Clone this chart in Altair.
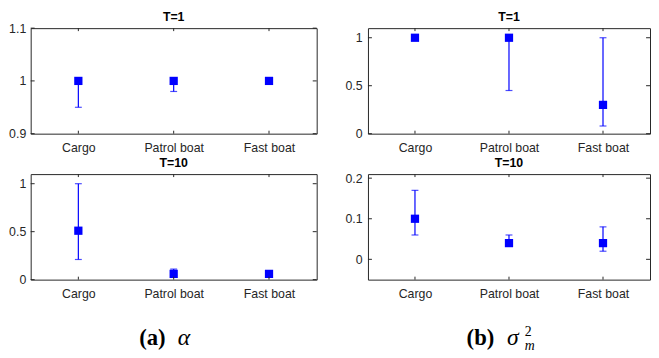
import altair as alt
import pandas as pd

categories = ["Cargo", "Patrol boat", "Fast boat"]

alpha_t1_mean = [1.0, 1.0, 1.0]
alpha_t1_low = [0.95, 0.98, 0.994]
alpha_t1_high = [1.0, 1.0, 1.0]

alpha_t10_mean = [0.51, 0.06, 0.06]
alpha_t10_low = [0.21, 0.04, 0.04]
alpha_t10_high = [1.0, 0.11, 0.08]

sigma_t1_mean = [1.0, 1.0, 0.30]
sigma_t1_low = [1.0, 0.45, 0.08]
sigma_t1_high = [1.0, 1.0, 1.0]

sigma_t10_mean = [0.10, 0.04, 0.04]
sigma_t10_low = [0.06, 0.035, 0.02]
sigma_t10_high = [0.17, 0.06, 0.08]

alpha_t1_ticks = [0.9, 1.0, 1.1]
alpha_t10_ticks = [0, 0.5, 1]
sigma_t1_ticks = [0, 0.5, 1]
sigma_t10_ticks = [0, 0.1, 0.2]

alpha_t1_domain = [0.9, 1.1]
alpha_t10_domain = [0, 1.1]
sigma_t1_domain = [0, 1.1]
sigma_t10_domain = [-0.05, 0.21]

panel_titles = ["T=1", "T=10"]
caption_a = ["(a)", "α"]
caption_b = ["(b)", "σ", "2", "m"]

FONT = "Liberation Sans"
SERIF = "Liberation Serif"
BLUE = "#0000ff"
AX = "#262626"


def panel(title, mean, low, high, ticks, domain, width, height, pad):
    df = pd.DataFrame({"cat": categories, "mean": mean, "low": low, "high": high})
    tdf = pd.DataFrame({"t": ticks})
    cdf = pd.DataFrame({"cat": categories})
    ttl = pd.DataFrame({"t": [title]})
    xaxis = alt.Axis(title=None, labelAngle=0, ticks=False, domain=False, grid=False,
                     labelPadding=8, labelFontSize=12.5, labelColor=AX, labelFont=FONT)
    xs = alt.Scale(type="point", padding=0.5, domain=categories)
    yaxis = alt.Axis(title=None, values=ticks, format=".2~f", ticks=False, domain=False,
                     grid=False, labelPadding=pad, labelFontSize=12.5, labelColor=AX,
                     labelFont=FONT)
    ys = alt.Scale(domain=domain, nice=False, zero=False)

    def X():
        return alt.X("cat:N", scale=xs, axis=xaxis, sort=categories)

    bars = alt.Chart(df).mark_rule(color=BLUE, strokeWidth=1.2).encode(
        x=X(), y=alt.Y("low:Q", scale=ys, axis=yaxis), y2="high:Q")
    cap_lo = alt.Chart(df).mark_tick(color=BLUE, thickness=1.2, size=7).encode(
        x=X(), y=alt.Y("low:Q", scale=ys, axis=yaxis))
    cap_hi = alt.Chart(df).mark_tick(color=BLUE, thickness=1.2, size=7).encode(
        x=X(), y=alt.Y("high:Q", scale=ys, axis=yaxis))
    pts = alt.Chart(df).mark_square(color=BLUE, size=70, opacity=1).encode(
        x=X(), y=alt.Y("mean:Q", scale=ys, axis=yaxis))
    yt_l = alt.Chart(tdf).mark_rule(color=AX, strokeWidth=1).encode(
        y=alt.Y("t:Q", scale=ys, axis=yaxis), x=alt.value(0), x2=alt.value(4))
    yt_r = alt.Chart(tdf).mark_rule(color=AX, strokeWidth=1).encode(
        y=alt.Y("t:Q", scale=ys, axis=yaxis), x=alt.value(width - 4), x2=alt.value(width))
    xt_t = alt.Chart(cdf).mark_rule(color=AX, strokeWidth=1).encode(
        x=X(), y=alt.value(0), y2=alt.value(3))
    xt_b = alt.Chart(cdf).mark_rule(color=AX, strokeWidth=1).encode(
        x=X(), y=alt.value(height - 3), y2=alt.value(height))
    head = alt.Chart(ttl).mark_text(font=FONT, fontSize=12.5, fontWeight="bold",
                                    color="black", align="center", baseline="middle").encode(
        text="t:N", x=alt.value(width / 2), y=alt.value(-11))
    return [bars, cap_lo, cap_hi, pts, yt_l, yt_r, xt_t, xt_b, head]


def caption_text(text, x, y, size, weight, style):
    d = pd.DataFrame({"c": [text]})
    return alt.Chart(d).mark_text(font=SERIF, fontSize=size, fontWeight=weight,
                                  fontStyle=style, align="left", baseline="alphabetic",
                                  color="black").encode(
        text="c:N", x=alt.value(x), y=alt.value(y))


WL, WR, H = 290, 286, 107

tl = alt.layer(*panel(panel_titles[0], alpha_t1_mean, alpha_t1_low, alpha_t1_high,
                      alpha_t1_ticks, alpha_t1_domain, WL, H, 5)).properties(width=WL, height=H)
tr = alt.layer(*panel(panel_titles[0], sigma_t1_mean, sigma_t1_low, sigma_t1_high,
                      sigma_t1_ticks, sigma_t1_domain, WR, H, 6)).properties(width=WR, height=H)

bl_layers = panel(panel_titles[1], alpha_t10_mean, alpha_t10_low, alpha_t10_high,
                  alpha_t10_ticks, alpha_t10_domain, WL, H, 5)
bl_layers += [
    caption_text(caption_a[0], 110, H + 66, 23, "bold", "normal"),
    caption_text(caption_a[1], 149, H + 66, 24, "normal", "italic"),
]
br_layers = panel(panel_titles[1], sigma_t10_mean, sigma_t10_low, sigma_t10_high,
                  sigma_t10_ticks, sigma_t10_domain, WR, H, 6)
br_layers += [
    caption_text(caption_b[0], 100, H + 66, 23, "bold", "normal"),
    caption_text(caption_b[1], 141, H + 66, 24, "normal", "italic"),
    caption_text(caption_b[2], 159, H + 57, 14, "normal", "normal"),
    caption_text(caption_b[3], 159, H + 71, 14, "normal", "italic"),
]
bl = alt.layer(*bl_layers).properties(width=WL, height=H)
br = alt.layer(*br_layers).properties(width=WR, height=H)

chart = alt.concat(
    tl, tr, bl, br, columns=2, bounds="flush", align="each",
    spacing={"row": 41, "column": 52},
).properties(padding=0).configure_view(stroke=AX, strokeWidth=1)

chart.save("out.html", embed_options={"renderer": "svg", "actions": False})
